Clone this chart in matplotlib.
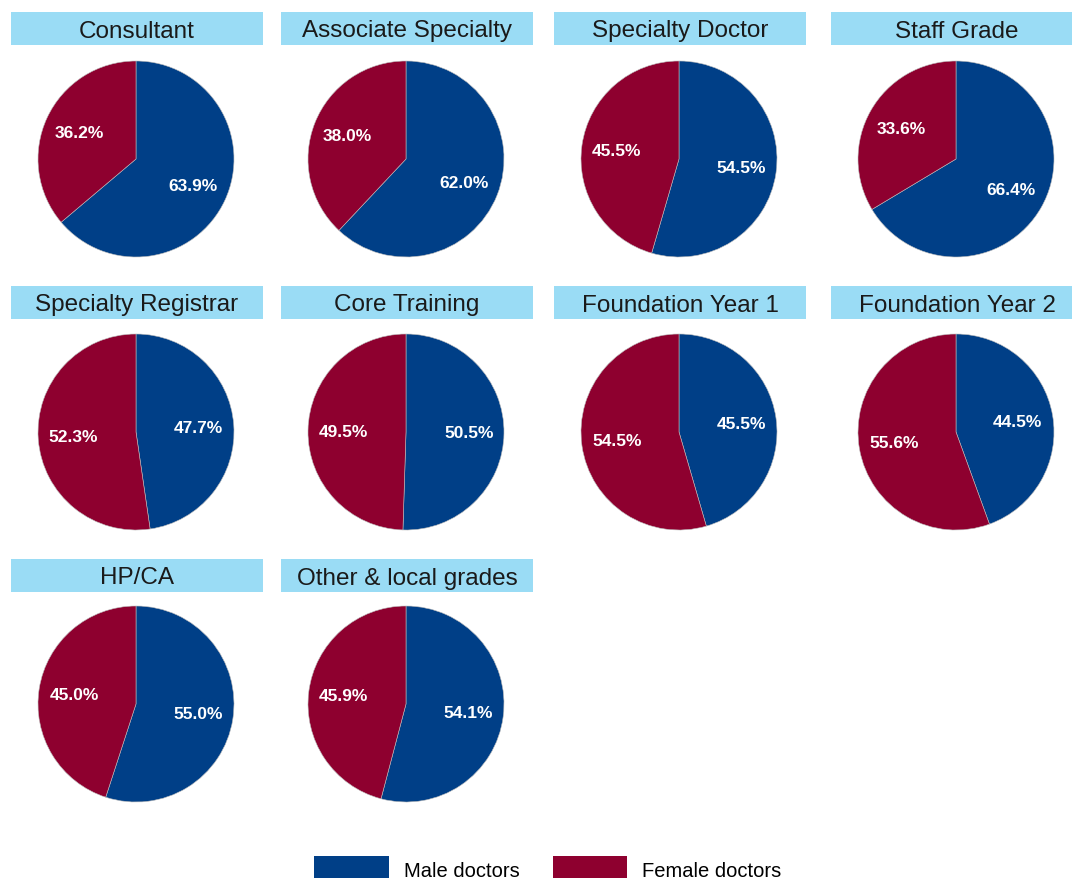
import matplotlib
matplotlib.use("Agg")
import matplotlib.pyplot as plt
from matplotlib.patches import Rectangle, Patch

plt.rcParams["font.family"] = ["Liberation Sans", "DejaVu Sans"]

grades = ["Consultant", "Associate Specialty", "Specialty Doctor", "Staff Grade",
          "Specialty Registrar", "Core Training", "Foundation Year 1", "Foundation Year 2",
          "HP/CA", "Other & local grades"]
male = [63.9, 62.0, 54.5, 66.4, 47.7, 50.5, 45.5, 44.5, 55.0, 54.1]
female = [36.2, 38.0, 45.5, 33.6, 52.3, 49.5, 54.5, 55.6, 45.0, 45.9]
series = ["Male doctors", "Female doctors"]

MALE_COLOR = "#003F87"
FEMALE_COLOR = "#8E002F"
BOX_COLOR = "#9ADCF5"

W, H = 1072, 879
fig = plt.figure(figsize=(W / 100, H / 100), dpi=100)

# pixel layout
col_cx = [136, 406, 679, 956]
row_cy = [160, 433, 705]
box_left = [11, 281, 554, 831]
box_top = [13, 287, 560]
box_w, box_h = 252, 33
R = 98

for i, grade in enumerate(grades):
    r, c = divmod(i, 4)
    cx, cy = col_cx[c], row_cy[r]
    ax = fig.add_axes([(cx - R) / W, (H - cy - R) / H, 2 * R / W, 2 * R / H])
    labels = iter([f"{male[i]:.1f}%", f"{female[i]:.1f}%"])
    ax.pie([male[i], female[i]], colors=[MALE_COLOR, FEMALE_COLOR], startangle=90,
           counterclock=False, radius=1, autopct=lambda p: next(labels), pctdistance=0.64,
           wedgeprops={"linewidth": 0.4, "edgecolor": "#bbbbbb"},
           textprops={"color": "white", "fontsize": 12.5, "fontweight": "bold"})
    ax.set_xlim(-1, 1)
    ax.set_ylim(-1, 1)
    ax.set_aspect("equal")

    bx, by = box_left[c], box_top[r]
    fig.patches.append(Rectangle((bx / W, (H - by - box_h) / H), box_w / W, box_h / H,
                                 transform=fig.transFigure, facecolor=BOX_COLOR,
                                 edgecolor="none"))
    fig.text((bx + box_w / 2) / W, (H - by - box_h / 2 - 2) / H, grade, ha="center",
             va="center", fontsize=17.5, color="#1a1a1a")

handles = [Patch(facecolor=MALE_COLOR), Patch(facecolor=FEMALE_COLOR)]
fig.legend(handles, series, loc="upper left", bbox_to_anchor=(314 / W, (H - 857) / H),
           ncol=2, frameon=False, fontsize=14.5, borderpad=0, borderaxespad=0,
           handlelength=3.7, handleheight=1.6, handletextpad=0.75, columnspacing=1.65)

fig.savefig("out.png", dpi=100)
